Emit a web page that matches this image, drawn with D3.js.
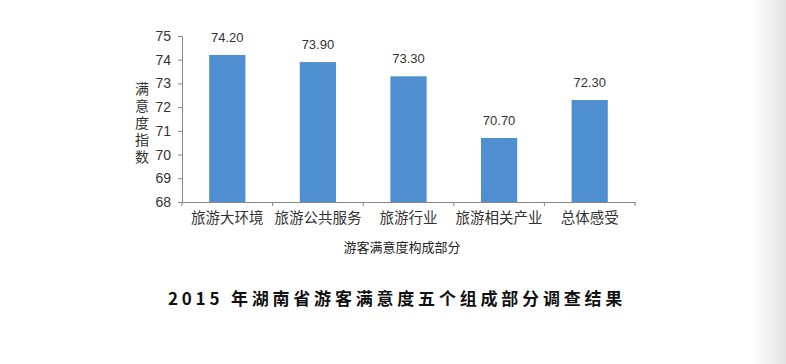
<!DOCTYPE html>
<html>
<head>
<meta charset="utf-8">
<script src="https://cdn.jsdelivr.net/npm/d3@7"></script>
<style>
  body { margin: 0; background: #fff; }
  svg { display: block; font-family: "Liberation Sans", Arial, "Noto Sans CJK SC", sans-serif; }
</style>
</head>
<body>
<svg id="chart"></svg>
<script>
const categories = ["旅游大环境", "旅游公共服务", "旅游行业", "旅游相关产业", "总体感受"];
const values = [74.2, 73.9, 73.3, 70.7, 72.3];
const yTicks = [68, 69, 70, 71, 72, 73, 74, 75];
const yTitle = "满意度指数";
const xTitle = "游客满意度构成部分";
const chartTitle = "2015 年湖南省游客满意度五个组成部分调查结果";

const width = 786, height = 364;
const svg = d3.select("#chart").attr("width", width).attr("height", height);

// right page-edge shadow
const grad = svg.append("defs").append("linearGradient").attr("id", "edge");
grad.append("stop").attr("offset", "0%").attr("stop-color", "#fff");
grad.append("stop").attr("offset", "100%").attr("stop-color", "#e2e2e2");
svg.append("rect").attr("x", 752).attr("y", 0).attr("width", 34).attr("height", height)
  .attr("fill", "url(#edge)");

const x = d3.scaleBand().domain(categories).range([182, 635]).paddingInner(0).paddingOuter(0);
const y = d3.scaleLinear().domain([68, 75]).range([202, 36]);

const axisColor = "#868686";
const textColor = "#333";

// y axis
const yAxis = svg.append("g").attr("transform", "translate(182,0)")
  .call(d3.axisLeft(y).tickValues(yTicks).tickFormat(d3.format("d")).tickSize(4).tickPadding(7));
yAxis.select(".domain").attr("stroke", axisColor);
yAxis.selectAll(".tick line").attr("stroke", axisColor);
yAxis.selectAll(".tick text").attr("fill", textColor).style("font-size", "14px");

// bars
const barW = x.bandwidth() * 0.4;
svg.selectAll("rect.bar").data(values).enter().append("rect")
  .attr("class", "bar")
  .attr("x", (d, i) => x(categories[i]) + (x.bandwidth() - barW) / 2)
  .attr("y", d => y(d))
  .attr("width", barW)
  .attr("height", d => y(68) - y(d))
  .attr("fill", "#4f8fcf");

// data labels
svg.selectAll("text.val").data(values).enter().append("text")
  .attr("class", "val")
  .attr("x", (d, i) => x(categories[i]) + x.bandwidth() / 2)
  .attr("y", d => y(d) - 13)
  .attr("text-anchor", "middle")
  .attr("fill", textColor)
  .style("font-size", "13px")
  .text(d => d.toFixed(2));

// x axis
const xAxis = svg.append("g").attr("transform", "translate(0,202)")
  .call(d3.axisBottom(x).tickSize(0).tickPadding(11));
xAxis.select(".domain").attr("stroke", axisColor);
xAxis.selectAll(".tick text").attr("fill", textColor).style("font-size", "14.5px")
  .attr("font-family", "'Noto Sans CJK SC', sans-serif");
const edges = x.domain().map(c => x(c)).concat([x.range()[1]]);
xAxis.selectAll("line.edge").data(edges).enter().append("line")
  .attr("class", "edge")
  .attr("x1", d => d).attr("x2", d => d)
  .attr("y1", 0).attr("y2", 4)
  .attr("stroke", axisColor);

// y axis title, written vertically
svg.append("text")
  .attr("x", 142).attr("y", 82)
  .attr("fill", textColor)
  .attr("font-family", "'Noto Sans CJK SC', sans-serif")
  .style("font-size", "14px")
  .style("writing-mode", "vertical-rl")
  .style("text-orientation", "upright")
  .style("letter-spacing", "3px")
  .text(yTitle);

// x axis title
svg.append("text")
  .attr("x", 402).attr("y", 252)
  .attr("text-anchor", "middle")
  .attr("fill", "#222")
  .attr("font-family", "'Noto Sans CJK SC', sans-serif")
  .style("font-size", "13px")
  .text(xTitle);

// chart title
svg.append("text")
  .attr("x", 397).attr("y", 305)
  .attr("text-anchor", "middle")
  .attr("fill", "#111")
  .attr("font-family", "'Noto Sans CJK SC', sans-serif")
  .style("font-size", "17px")
  .style("font-weight", "bold")
  .style("letter-spacing", "3.8px")
  .text(chartTitle);
</script>
</body>
</html>
